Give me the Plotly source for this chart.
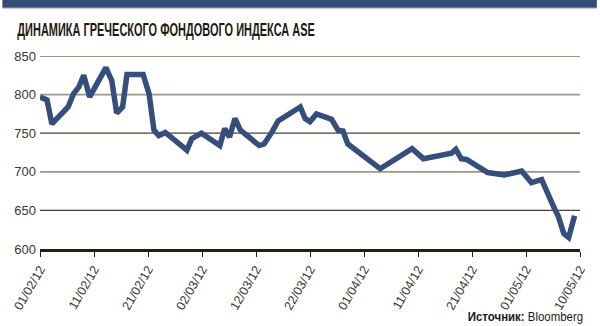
import plotly.graph_objects as go

# Day offsets since 01/02/12 and index values
days = [0, 1.3, 2.2, 5.2, 6.2, 7.2, 8.1, 9.2, 12.2, 13.3, 14.2, 15.3, 16.1, 19.1, 20.2,
        21.1, 22.0, 23.2, 27.2, 28.1, 29.9, 33.3, 34.2, 35.1, 36.1, 37.1, 40.6, 41.5,
        43.0, 44.1, 48.2, 49.1, 50.0, 51.2, 54.0, 55.2, 56.1, 57.0, 63.0, 68.9, 71.0,
        76.2, 77.0, 78.0, 79.0, 82.9, 86.0, 89.2, 91.0, 92.9, 95.1, 96.0, 97.0, 97.9, 99.0]
values = [797, 793, 762, 784, 801, 810, 825, 797, 835, 818, 776, 784, 826, 826, 801,
          754, 747, 751, 728, 743, 750, 734, 756, 745, 769, 754, 734, 736,
          752, 766, 784, 769, 765, 775, 768, 754, 753, 736, 704, 730, 717,
          724, 729, 717, 716, 699, 696, 701, 686, 690, 655, 642, 620, 615, 643]

x_tick_vals = [0, 10, 20, 30, 40, 50, 60, 70, 80, 90, 100]
x_tick_text = ["01/02/12", "11/02/12", "21/02/12", "02/03/12", "12/03/12", "22/03/12",
               "01/04/12", "11/04/12", "21/04/12", "01/05/12", "10/05/12"]
y_tick_vals = [600, 650, 700, 750, 800, 850]

title_text = "ДИНАМИКА ГРЕЧЕСКОГО ФОНДОВОГО ИНДЕКСА ASE"

W, H = 600, 326
ml, mr, mt, mb = 38, 17, 56, 77
ph = H - mt - mb

def py(p):
    return (H - mb - p) / ph

def px(p):
    return (p - ml) / (W - ml - mr)

fig = go.Figure()

shapes = []
# gridlines
for v in y_tick_vals[1:]:
    dark = v in (750, 650)
    shapes.append(dict(type="line", xref="paper", yref="y", x0=0, x1=1, y0=v, y1=v,
                       line=dict(color="#4b4232" if dark else "#9c9786",
                                 width=1.3 if dark else 1.8), layer="below"))
# top bar
shapes.append(dict(type="rect", xref="paper", yref="paper", x0=px(0), x1=px(W),
                   y0=py(7.8), y1=py(0), fillcolor="#354c77", line=dict(width=0)))
shapes.append(dict(type="line", xref="paper", yref="paper", x0=px(0), x1=px(W),
                   y0=py(8.5), y1=py(8.5), line=dict(color="#c8ccd6", width=1)))

fig.add_trace(go.Scatter(x=days, y=values, mode="lines",
                         line=dict(color="#354e7b", width=5.5, shape="linear"),
                         hoverinfo="skip"))

fig.update_layout(
    width=W, height=H,
    margin=dict(l=ml, r=mr, t=mt, b=mb),
    paper_bgcolor="white", plot_bgcolor="white",
    showlegend=False,
    shapes=shapes,
    font=dict(family="Liberation Sans Narrow, Arial Narrow, sans-serif", color="#3a3630"),
    annotations=[
        dict(text="<b>" + title_text + "</b>", xref="paper", yref="paper",
             x=px(13), y=py(42), xanchor="left", yanchor="bottom", showarrow=False,
             font=dict(size=18, color="#1e1a10",
                       family="Liberation Sans Narrow, Arial Narrow, sans-serif")),
        dict(text="<b>Источник:</b> Bloomberg", xref="paper", yref="paper",
             x=px(588), y=py(326), xanchor="right", yanchor="bottom", showarrow=False,
             font=dict(size=13, color="#1e1a10",
                       family="Liberation Sans Narrow, Arial Narrow, sans-serif")),
    ],
    xaxis=dict(range=[0, 100], tickmode="array", tickvals=x_tick_vals, ticktext=x_tick_text,
               tickangle=-60, ticks="outside", ticklen=5, tickwidth=1.2, tickcolor="#231d10",
               showgrid=False, zeroline=False, showline=True, linecolor="#231d10", linewidth=3,
               tickfont=dict(size=12.5, color="#3a3630"), fixedrange=True),
    yaxis=dict(range=[600, 850], tickmode="array", tickvals=y_tick_vals,
               showgrid=False, zeroline=False, showline=False, ticks="",
               ticklabelstandoff=3,
               tickfont=dict(size=13, color="#3a3630"), fixedrange=True),
)

post = """
var gd = document.getElementById('{plot_id}');
function squeeze(){
  var anns = gd.querySelectorAll('.annotation-text');
  if (anns.length > 0) {
    anns[0].style.transformBox = 'fill-box';
    anns[0].style.transformOrigin = 'left bottom';
    anns[0].style.transform = 'scaleX(0.61)';
  }
  if (anns.length > 1) {
    anns[1].style.transformBox = 'fill-box';
    anns[1].style.transformOrigin = 'right bottom';
    anns[1].style.transform = 'scaleX(0.88)';
  }
}
squeeze();
gd.on && gd.on('plotly_afterplot', squeeze);
"""

fig.write_html("out.html", post_script=post)
